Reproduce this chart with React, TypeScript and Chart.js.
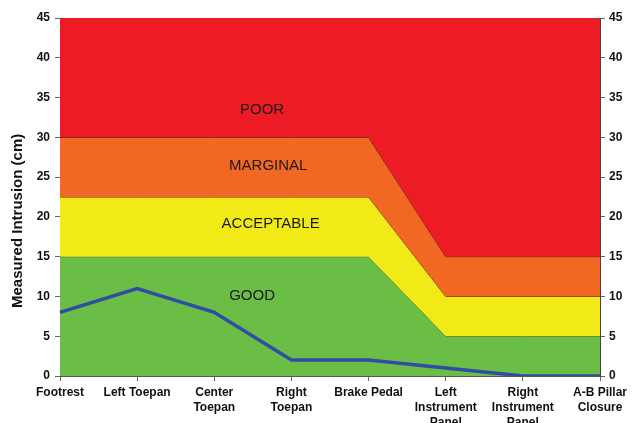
import React, { useEffect, useRef } from "react";
import { Chart, registerables } from "chart.js";

Chart.register(...registerables);

const categories: (string | string[])[] = [
  "Footrest",
  "Left Toepan",
  ["Center", "Toepan"],
  ["Right", "Toepan"],
  "Brake Pedal",
  ["Left", "Instrument", "Panel"],
  ["Right", "Instrument", "Panel"],
  ["A-B Pillar", "Closure"],
];

const measured = [8, 11, 8, 2, 2, 1, 0, 0];
const goodTop = [15, 15, 15, 15, 15, 5, 5, 5];
const acceptableTop = [22.5, 22.5, 22.5, 22.5, 22.5, 10, 10, 10];
const marginalTop = [30, 30, 30, 30, 30, 15, 15, 15];
const poorTop = [45, 45, 45, 45, 45, 45, 45, 45];

const bandLabels = ["POOR", "MARGINAL", "ACCEPTABLE", "GOOD"];
const bandLabelX = [2.62, 2.7, 2.73, 2.49];
const bandLabelY = [33.5, 26.45, 19.1, 10.1];

const yTitle = "Measured Intrusion (cm)";
const yTitleCenterValue = 19.5;

const yTicks = { min: 0, max: 45, step: 5 };

const FONT = "'Liberation Sans', Arial, sans-serif";

const bandLabelPlugin = {
  id: "bandLabels",
  afterDatasetsDraw(chart: any) {
    const { ctx, scales } = chart;
    ctx.save();
    ctx.font = `15px ${FONT}`;
    ctx.fillStyle = "#1a1a1a";
    ctx.textAlign = "center";
    ctx.textBaseline = "middle";
    bandLabels.forEach((t, i) => {
      const x = scales.x.getPixelForValue(bandLabelX[i]);
      const y = scales.y.getPixelForValue(bandLabelY[i]);
      ctx.fillText(t, x, y);
    });
    // y axis title
    const ty = scales.y.getPixelForValue(yTitleCenterValue);
    ctx.translate(18, ty);
    ctx.rotate(-Math.PI / 2);
    ctx.font = `bold 15px ${FONT}`;
    ctx.fillStyle = "#111";
    ctx.fillText(yTitle, 0, 0);
    ctx.restore();
  },
};

export default function App() {
  const ref = useRef<HTMLCanvasElement>(null);
  useEffect(() => {
    document.body.style.margin = "0";
    const tickFont = { family: FONT, size: 12, weight: "bold" as const };
    const chart = new Chart(ref.current!, {
      type: "line",
      data: {
        labels: categories as any,
        datasets: [
          {
            data: measured,
            borderColor: "#2F4DA6",
            borderWidth: 3.5,
            pointRadius: 0,
            fill: false,
            tension: 0,
            order: 0,
          },
          {
            data: goodTop,
            backgroundColor: "#6ABD45",
            borderColor: "#2f4a20",
            borderWidth: 1,
            pointRadius: 0,
            fill: "origin",
            tension: 0,
            order: 4,
          },
          {
            data: acceptableTop,
            backgroundColor: "#F2EA17",
            borderColor: "#3a3520",
            borderWidth: 1,
            pointRadius: 0,
            fill: "-1",
            tension: 0,
            order: 3,
          },
          {
            data: marginalTop,
            backgroundColor: "#F26722",
            borderColor: "#3a2010",
            borderWidth: 1,
            pointRadius: 0,
            fill: "-1",
            tension: 0,
            order: 2,
          },
          {
            data: poorTop,
            backgroundColor: "#ED1C24",
            borderColor: "#ED1C24",
            borderWidth: 0,
            pointRadius: 0,
            fill: "-1",
            tension: 0,
            order: 1,
          },
        ],
      },
      options: {
        animation: false,
        responsive: false,
        maintainAspectRatio: false,
        layout: { padding: { top: 18, left: 0, right: 0, bottom: 0 } },
        plugins: { legend: { display: false }, tooltip: { enabled: false } },
        scales: {
          x: {
            offset: false,
            grid: {
              display: true,
              drawOnChartArea: false,
              drawTicks: true,
              tickLength: 5,
              color: "#666",
            },
            border: { display: true, color: "#555", width: 1 },
            ticks: {
              color: "#111",
              font: { ...tickFont, lineHeight: 1.25 },
              maxRotation: 0,
              autoSkip: false,
              padding: 4,
            },
            afterFit: (s: any) => {
              s.height = 47;
            },
          },
          y: {
            position: "left",
            min: yTicks.min,
            max: yTicks.max,
            grid: {
              display: true,
              drawOnChartArea: false,
              drawTicks: true,
              tickLength: 5,
              color: "#666",
            },
            border: { display: true, color: "#444", width: 1 },
            ticks: { stepSize: yTicks.step, color: "#111", font: tickFont, padding: 5 },
            afterFit: (s: any) => {
              s.width = 60;
            },
          },
          y2: {
            position: "right",
            min: yTicks.min,
            max: yTicks.max,
            grid: {
              display: true,
              drawOnChartArea: false,
              drawTicks: true,
              tickLength: 5,
              color: "#666",
            },
            border: { display: true, color: "#444", width: 1 },
            ticks: { stepSize: yTicks.step, color: "#111", font: tickFont, padding: 4 },
            afterFit: (s: any) => {
              s.width = 41;
            },
          },
        },
      },
      plugins: [bandLabelPlugin],
    });
    return () => chart.destroy();
  }, []);
  return <canvas ref={ref} width={641} height={423} style={{ display: "block" }} />;
}
